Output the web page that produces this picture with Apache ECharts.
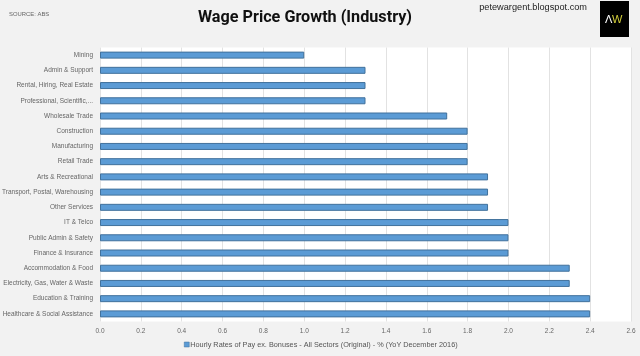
<!DOCTYPE html>
<html>
<head>
<meta charset="utf-8">
<style>
html, body { margin: 0; padding: 0; background: #f2f2f2; }
#chart { width: 640px; height: 356px; }
</style>
<script src="https://cdn.jsdelivr.net/npm/echarts@6/dist/echarts.min.js"></script>
</head>
<body>
<div id="chart"></div>
<script>
var categories = ['Mining', 'Admin & Support', 'Rental, Hiring, Real Estate', 'Professional, Scientific,...', 'Wholesale Trade', 'Construction', 'Manufacturing', 'Retail Trade', 'Arts & Recreational', 'Transport, Postal, Warehousing', 'Other Services', 'IT & Telco', 'Public Admin & Safety', 'Finance & Insurance', 'Accommodation & Food', 'Electricity, Gas, Water & Waste', 'Education & Training', 'Healthcare & Social Assistance'];
var wageGrowth = [1.0, 1.3, 1.3, 1.3, 1.7, 1.8, 1.8, 1.8, 1.9, 1.9, 1.9, 2.0, 2.0, 2.0, 2.3, 2.3, 2.4, 2.4];
var seriesName = 'Hourly Rates of Pay ex. Bonuses - All Sectors (Original) - % (YoY December 2016)';

var chart = echarts.init(document.getElementById('chart'));
chart.setOption({
	backgroundColor: '#f2f2f2',
	animation: false,
	textStyle: { fontFamily: 'Arial, "Liberation Sans", sans-serif' },
	title: {
		text: 'Wage Price Growth (Industry)',
		left: 300,
		top: 5,
		textAlign: 'center',
		textStyle: { fontFamily: 'Roboto, Arial', fontSize: 16.2, fontWeight: 700, color: '#111' }
	},
	legend: {
		show: true,
		top: 341,
		left: 184,
		padding: 0,
		icon: 'rect',
		itemWidth: 5,
		itemHeight: 5,
		itemGap: 3,
		data: [seriesName],
		itemStyle: { borderWidth: 0.5 },
		textStyle: { fontSize: 7.3, color: '#555', padding: [0, 0, 0, -4] }
	},
	grid: { show: true, backgroundColor: '#fff', borderWidth: 0, left: 100, right: 9, top: 47.5, bottom: 34.5, outerBoundsMode: 'none' },
	xAxis: {
		type: 'value',
		min: 0,
		max: 2.6,
		interval: 0.2,
		axisLine: { show: false },
		axisTick: { show: false },
		splitLine: { lineStyle: { color: '#e2e2e2', width: 1 } },
		axisLabel: { fontSize: 6.5, color: '#666', margin: 6, formatter: function(v) { return v.toFixed(1); } }
	},
	yAxis: {
		type: 'category',
		inverse: true,
		data: categories,
		axisLine: { show: false },
		axisTick: { show: false },
		splitLine: { show: false },
		axisLabel: { fontSize: 6.5, color: '#666', margin: 7, interval: 0 }
	},
	series: [{
		name: seriesName,
		type: 'bar',
		data: wageGrowth,
		barWidth: 7,
		itemStyle: { color: '#5b9bd5', borderColor: '#41719c', borderWidth: 1 }
	}],
	graphic: [
		{ type: 'rect', shape: { x: 600, y: 1, width: 29, height: 36 }, style: { fill: '#000' } },
		{ type: 'text', style: { x: 605, y: 14, text: 'Λ', fill: '#fff', fontSize: 11, fontFamily: 'Arial' } },
		{ type: 'text', style: { x: 612, y: 14, text: 'W', fill: '#d4cf3a', fontSize: 11, fontFamily: 'Arial' } },
		{ type: 'text', style: { x: 587, y: 3, text: 'petewargent.blogspot.com', align: 'right', fill: '#222', fontSize: 9.2, fontFamily: 'Arial' } },
		{ type: 'text', style: { x: 9, y: 11, text: 'SOURCE: ABS', fill: '#666', fontSize: 5.9, fontFamily: 'Arial' } }
	]
});
</script>
</body>
</html>
